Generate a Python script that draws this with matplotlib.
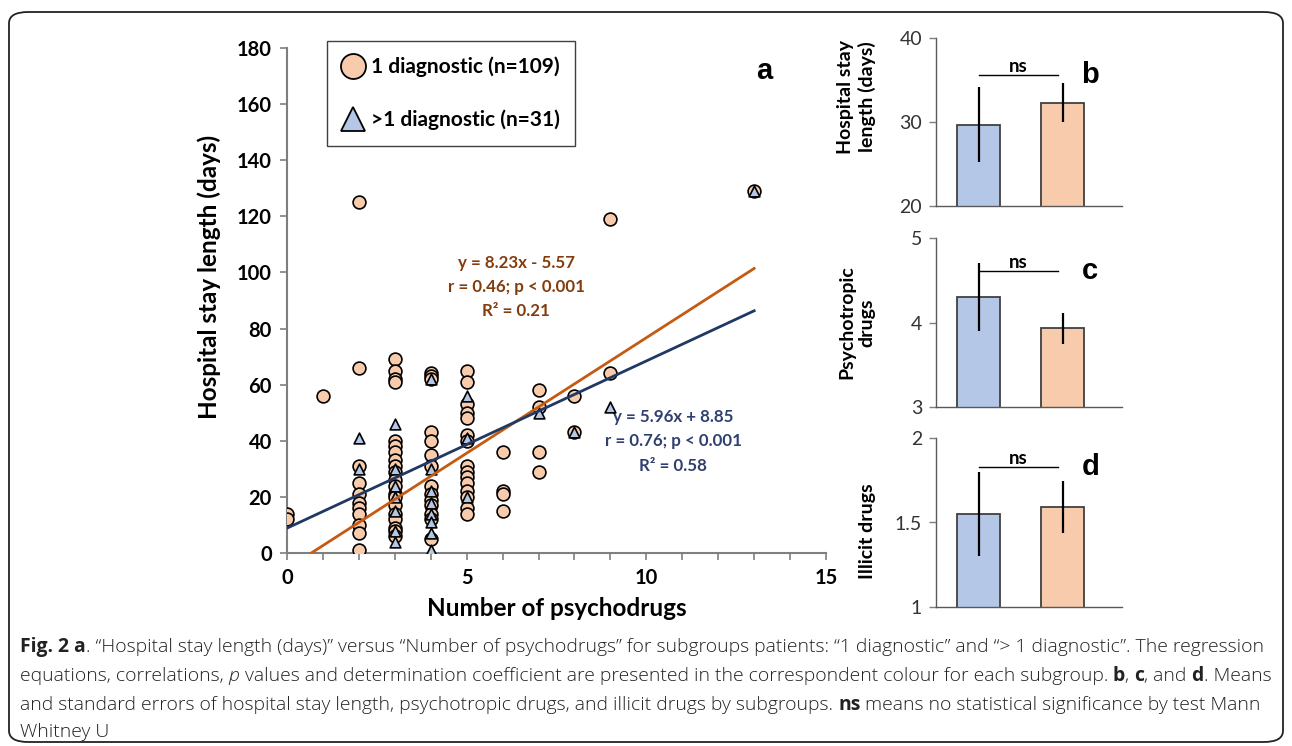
import numpy as np
import matplotlib.pyplot as plt
from matplotlib.lines import Line2D
from matplotlib.patches import FancyBboxPatch

# ---- data ----
# panel a, "1 diagnostic" (circles)
circ_x = [0, 0, 1,
          2, 2, 2, 2, 2, 2, 2, 2, 2, 2, 2,
          3, 3, 3, 3, 3, 3, 3, 3, 3, 3, 3, 3, 3, 3, 3, 3, 3, 3, 3, 3,
          4, 4, 4, 4, 4, 4, 4, 4, 4, 4, 4, 4, 4, 4,
          5, 5, 5, 5, 5, 5, 5, 5, 5, 5, 5, 5, 5, 5, 5,
          6, 6, 6, 6, 7, 7, 7, 7, 8, 8, 9, 9, 13]
circ_y = [14, 12, 56,
          125, 66, 31, 25, 21, 18, 16, 14, 10, 7, 1,
          69, 65, 62, 61, 40, 38, 36, 33, 31, 29, 26, 24, 21, 20, 17, 14, 12, 9, 8, 6,
          64, 63, 62, 43, 40, 35, 31, 24, 21, 19, 17, 14, 12, 5,
          65, 61, 53, 50, 48, 42, 40, 31, 29, 27, 25, 22, 20, 16, 14,
          36, 22, 21, 15, 58, 52, 36, 29, 56, 43, 119, 64, 129]
# panel a, ">1 diagnostic" (triangles)
tri_x = [2, 2, 3, 3, 3, 3, 3, 3, 3, 4, 4, 4, 4, 4, 4, 4, 4, 5, 5, 5, 7, 8, 9, 13]
tri_y = [41, 30, 46, 30, 24, 20, 15, 8, 4, 62, 30, 22, 18, 14, 11, 7, 1,
         56, 41, 20, 50, 43, 52, 129]

# regression coefficients (slope, intercept)
fit_one = (8.23, -5.57)
fit_multi = (5.96, 8.85)

# panels b, c, d: [>1 diagnostic, 1 diagnostic]
stay_mean = [29.7, 32.3]
stay_err = [4.45, 2.3]
psy_mean = [4.3, 3.93]
psy_err = [0.4, 0.18]
illicit_mean = [1.55, 1.59]
illicit_err = [0.25, 0.155]

c_fill_one = '#F8CBAD'
c_fill_multi = '#B4C7E7'
c_line_one = '#C55A11'
c_line_multi = '#203864'
c_txt_one = '#843C0C'
c_txt_multi = '#2F3F6F'
c_axis = '#7F7F7F'

W, H = 1292, 746
fig = plt.figure(figsize=(W / 100, H / 100), dpi=100)
plt.rcParams['font.family'] = ['Lato', 'DejaVu Sans']


def box(left, top, right, bottom):
    return [left / W, 1 - bottom / H, (right - left) / W, (bottom - top) / H]


# outer rounded frame
fig.patches.append(FancyBboxPatch((9 / W, 4 / H), 1274 / W, 730 / H,
                                  boxstyle='round,pad=0,rounding_size=0.015',
                                  transform=fig.transFigure, fill=False,
                                  edgecolor='#222222', linewidth=1.3))

# ---- panel a ----
ax = fig.add_axes(box(287, 48, 826, 553))
ax.scatter(circ_x, circ_y, s=85, marker='o', facecolor=c_fill_one,
           edgecolor='black', linewidth=1.2, zorder=3)
ax.scatter(tri_x, tri_y, s=60, marker='^', facecolor=c_fill_multi,
           edgecolor='black', linewidth=1.2, zorder=4)

xs = np.linspace(-fit_one[1] / fit_one[0], 13, 50)
ax.plot(xs, fit_one[0] * xs + fit_one[1], color=c_line_one, lw=2, zorder=5)
xs = np.linspace(0, 13, 50)
ax.plot(xs, fit_multi[0] * xs + fit_multi[1], color=c_line_multi, lw=2, zorder=5)

ax.set_xlim(0, 15)
ax.set_ylim(0, 180)
ax.set_xticks([0, 5, 10, 15])
ax.set_xticks(range(16), minor=True)
ax.set_yticks(range(0, 181, 20))
ax.tick_params(which='both', length=5, width=1.2, color=c_axis)
ax.tick_params(labelsize=14.5, pad=6)
for lbl in ax.get_xticklabels() + ax.get_yticklabels():
    lbl.set_fontweight('bold')
for s in ['top', 'right']:
    ax.spines[s].set_visible(False)
for s in ['left', 'bottom']:
    ax.spines[s].set_color(c_axis)
    ax.spines[s].set_linewidth(1.5)
ax.set_xlabel('Number of psychodrugs', fontsize=17.5, fontweight='bold', labelpad=6)
ax.set_ylabel('Hospital stay length (days)', fontsize=17.5, fontweight='bold')
ax.yaxis.set_label_coords(-0.122, 0.547)

ax.text(6.38, 94.8, 'y = 8.23x - 5.57\nr = 0.46; p < 0.001\nR² = 0.21', color=c_txt_one,
        fontsize=12.2, fontweight='bold', ha='center', va='center', linespacing=1.65)
ax.text(10.75, 39.9, 'y = 5.96x + 8.85\nr = 0.76; p < 0.001\nR² = 0.58', color=c_txt_multi,
        fontsize=12.2, fontweight='bold', ha='center', va='center', linespacing=1.65)
ax.text(0.885, 0.955, 'a', transform=ax.transAxes, fontsize=21, fontweight='bold',
        family='Liberation Sans', ha='center', va='center')

handles = [Line2D([], [], ls='', marker='o', ms=18, mfc=c_fill_one, mec='black', mew=1.3),
           Line2D([], [], ls='', marker='^', ms=17, mfc=c_fill_multi, mec='black', mew=1.3)]
leg = ax.legend(handles, ['1 diagnostic (n=109)', '>1 diagnostic (n=31)'],
                loc='upper left', bbox_to_anchor=(327 / W, 1 - 41 / H),
                bbox_transform=fig.transFigure, fancybox=False, framealpha=1,
                edgecolor='#404040', handlelength=1.0, handletextpad=0.35,
                borderpad=0.75, labelspacing=1.55, borderaxespad=0,
                prop={'weight': 'bold', 'size': 15})
leg.get_frame().set_linewidth(1.0)

# ---- panels b, c, d ----
panels = [
    (box(936, 38, 1122, 206), stay_mean, stay_err, (20, 40), [20, 30, 40], 35.6,
     'Hospital stay\nlength (days)', 'b', 0.65),
    (box(936, 238, 1122, 407), psy_mean, psy_err, (3, 5), [3, 4, 5], 4.61,
     'Psychotropic\ndrugs', 'c', 0.5),
    (box(936, 438, 1122, 607), illicit_mean, illicit_err, (1, 2), [1, 1.5, 2], 1.83,
     'Illicit drugs', 'd', 0.45),
]
for rect, means, errs, ylim, yt, ns_y, ylab, letter, lab_y in panels:
    bx = fig.add_axes(rect)
    bx.bar([0, 1], means, width=0.51, color=[c_fill_multi, c_fill_one],
           edgecolor='#404040', linewidth=1.3, zorder=2)
    bx.errorbar([0, 1], means, yerr=errs, fmt='none', ecolor='black', elinewidth=1.6,
                capsize=0, zorder=3)
    bx.set_xlim(-0.506, 1.708)
    bx.set_ylim(*ylim)
    bx.set_yticks(yt)
    bx.set_yticklabels([f'{v:g}' for v in yt])
    bx.set_xticks([])
    bx.tick_params(axis='y', length=5, width=1.0, color=c_axis, labelsize=14,
                   labelcolor='#333333', pad=5)
    for s in ['top', 'right']:
        bx.spines[s].set_visible(False)
    for s in ['left', 'bottom']:
        bx.spines[s].set_color('#595959')
        bx.spines[s].set_linewidth(1.0)
    bx.plot([0, 0.95], [ns_y, ns_y], color='black', lw=1.0, clip_on=False)
    bx.text(0.475, ns_y, 'ns', ha='center', va='bottom', fontsize=13.5,
            fontweight='bold')
    bx.text(1.33, ns_y, letter, ha='center', va='center', fontsize=21,
            fontweight='bold', family='Liberation Sans')
    bx.set_ylabel(ylab, fontsize=14, fontweight='bold', linespacing=1.2)
    bx.yaxis.set_label_coords(-0.325, lab_y)

# ---- caption ----
caption = [
    [('Fig. 2 a', 'bold', 'normal'),
     ('. “Hospital stay length (days)” versus “Number of psychodrugs” for subgroups patients: '
      '“1 diagnostic” and “> 1 diagnostic”. The regression', 'light', 'normal')],
    [('equations, correlations, ', 'light', 'normal'), ('p', 'light', 'italic'),
     (' values and determination coefficient are presented in the correspondent colour for '
      'each subgroup. ', 'light', 'normal'), ('b', 'bold', 'normal'), (', ', 'light', 'normal'),
     ('c', 'bold', 'normal'), (', and ', 'light', 'normal'), ('d', 'bold', 'normal'),
     ('. Means', 'light', 'normal')],
    [('and standard errors of hospital stay length, psychotropic drugs, and illicit drugs by '
      'subgroups. ', 'light', 'normal'), ('ns', 'bold', 'normal'),
     (' means no statistical significance by test Mann', 'light', 'normal')],
    [('Whitney U', 'light', 'normal')],
]
renderer = fig.canvas.get_renderer()
cap_family = ['Open Sans', 'DejaVu Sans']

# size the caption so the first line spans the same width as in the figure
probe = 12.0
width = 0
for txt, weight, style in caption[0]:
    t = fig.text(0, 0, txt, fontsize=probe, fontweight=weight, fontstyle=style,
                 family=cap_family)
    width += t.get_window_extent(renderer).width
    t.remove()
cap_size = probe * 1246 / width

line_y = [652, 681, 710, 737]
for runs, py in zip(caption, line_y):
    x = 20
    for txt, weight, style in runs:
        t = fig.text(x / W, 1 - py / H, txt, fontsize=cap_size, fontweight=weight,
                     fontstyle=style, family=cap_family,
                     color='#222222', va='baseline', ha='left')
        x += t.get_window_extent(renderer).width

fig.savefig('out.png', dpi=100)
